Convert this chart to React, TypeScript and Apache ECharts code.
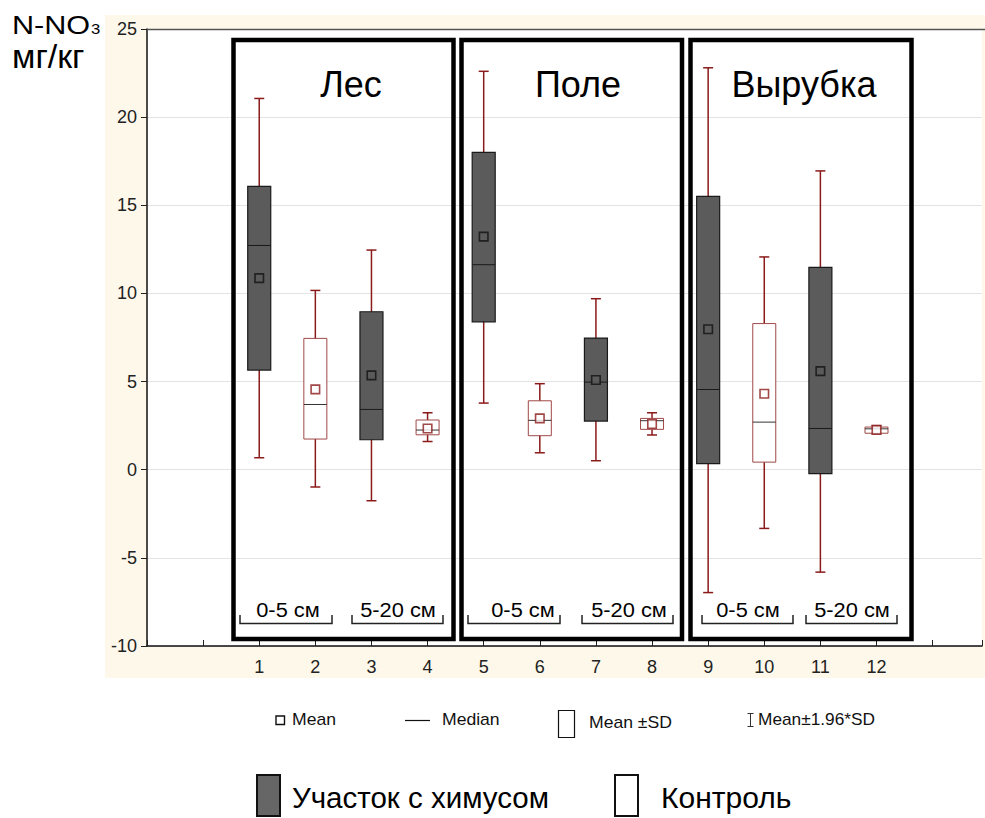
import React, { useEffect, useRef } from "react";
import * as echarts from "echarts";

// ---- data ----
const xPositions = [1, 2, 3, 4, 5, 6, 7, 8, 9, 10, 11, 12];
const xTickLabels = ["1", "2", "3", "4", "5", "6", "7", "8", "9", "10", "11", "12"];
const yTickValues = [-10, -5, 0, 5, 10, 15, 20, 25];
// "chem" = Участок с химусом (dark), "ctrl" = Контроль (white)
const plotType = ["chem", "ctrl", "chem", "ctrl", "chem", "ctrl", "chem", "ctrl", "chem", "ctrl", "chem", "ctrl"];
const means = [10.87, 4.56, 5.35, 2.34, 13.22, 2.91, 5.09, 2.59, 7.97, 4.31, 5.59, 2.26];
const medians = [12.72, 3.7, 3.42, 2.25, 11.63, 2.8, 4.97, 2.78, 4.55, 2.7, 2.34, 2.32];
const sdLow = [5.65, 1.74, 1.7, 1.98, 8.39, 1.93, 2.76, 2.29, 0.35, 0.43, -0.22, 2.07];
const sdHigh = [16.07, 7.45, 8.96, 2.82, 18.0, 3.91, 7.47, 2.91, 15.5, 8.29, 11.48, 2.42];
const ciLow = [0.68, -0.98, -1.76, 1.6, 3.78, 0.96, 0.51, 1.97, -6.97, -3.33, -5.81, 2.05];
const ciHigh = [21.06, 10.17, 12.46, 3.23, 22.6, 4.88, 9.7, 3.23, 22.8, 12.07, 16.95, 2.5];

const groupTitles = ["Лес", "Поле", "Вырубка"];
const depthLabels = ["0-5 см", "5-20 см"];
const legendStatLabels = ["Mean", "Median", "Mean ±SD", "Mean±1.96*SD"];
const legendTypeLabels = ["Участок с химусом", "Контроль"];
const yAxisTitle = ["N-NO", "3", "мг/кг"];

const FONT = "'Liberation Sans', Arial, sans-serif";
const DARK = "#5b5b5b";
const RED = "#8b1a1a";

export default function App() {
  const ref = useRef<HTMLDivElement>(null);

  useEffect(() => {
    if (!ref.current) return;
    const chart = echarts.init(ref.current, undefined, { renderer: "svg" });

    const boxData = xPositions.map((x, i) => [x, ciLow[i], sdLow[i], medians[i], sdHigh[i], ciHigh[i]]);
    const meanData = xPositions.map((x, i) => ({
      value: [x, means[i]],
      itemStyle: {
        color: plotType[i] === "chem" ? DARK : "#ffffff",
        borderColor: plotType[i] === "chem" ? "#111111" : RED,
        borderWidth: 1.6,
      },
    }));

    const frames = [
      { x1: 233.5, x2: 453.5 },
      { x1: 461.5, x2: 682 },
      { x1: 690.5, x2: 911.5 },
    ];
    const titleX = [351, 578, 804];
    const brackets = [
      { a: 240, b: 332, t: 288, l: 0 },
      { a: 352, b: 443, t: 398, l: 1 },
      { a: 468, b: 560, t: 523, l: 0 },
      { a: 582, b: 673, t: 629, l: 1 },
      { a: 702, b: 793, t: 748, l: 0 },
      { a: 806, b: 897, t: 852, l: 1 },
    ];

    const graphics: any[] = [
      {
        type: "rect",
        z: -1,
        silent: true,
        shape: { x: 105, y: 15, width: 880, height: 663 },
        style: { fill: "#fdf8ea" },
      },
      {
        type: "line",
        z: 50,
        shape: { x1: 147, y1: 29.5, x2: 985, y2: 29.5 },
        style: { stroke: "#555", lineWidth: 1.5 },
      },
      // y-axis title
      {
        type: "text",
        x: 12,
        y: 25,
        scaleX: 1.2,
        style: { text: yAxisTitle[0], fontSize: 25.5, fontFamily: FONT, fill: "#000", align: "left", verticalAlign: "middle" },
      },
      {
        type: "text",
        x: 91,
        y: 29,
        scaleX: 1.15,
        style: { text: yAxisTitle[1], fontSize: 14.5, fontFamily: FONT, fill: "#000", align: "left", verticalAlign: "middle" },
      },
      {
        type: "text",
        x: 12,
        y: 56,
        style: { text: yAxisTitle[2], fontSize: 34, fontFamily: FONT, fill: "#000", align: "left", verticalAlign: "middle" },
      },
    ];

    frames.forEach((f, k) => {
      graphics.push({
        type: "rect",
        z: 100,
        shape: { x: f.x1, y: 40, width: f.x2 - f.x1, height: 599 },
        style: { fill: "none", stroke: "#000", lineWidth: 4.5 },
      });
      graphics.push({
        type: "text",
        z: 100,
        x: titleX[k],
        y: 84,
        style: { text: groupTitles[k], fontSize: 36, fontFamily: FONT, fill: "#000", align: "center", verticalAlign: "middle" },
      });
    });

    brackets.forEach((b) => {
      graphics.push({
        type: "polyline",
        z: 100,
        shape: { points: [[b.a, 615], [b.a, 623.5], [b.b, 623.5], [b.b, 615]] },
        style: { fill: "none", stroke: "#222", lineWidth: 1.5 },
      });
      graphics.push({
        type: "text",
        z: 100,
        x: b.t,
        y: 610,
        scaleX: 1.12,
        style: { text: depthLabels[b.l], fontSize: 19.5, fontFamily: FONT, fill: "#000", align: "center", verticalAlign: "middle" },
      });
    });

    // stats legend
    graphics.push(
      { type: "rect", shape: { x: 276, y: 716, width: 8.5, height: 8.5 }, style: { fill: "#fff", stroke: "#111", lineWidth: 1.4 } },
      { type: "text", x: 292, y: 720, scaleX: 1.1, style: { text: legendStatLabels[0], fontSize: 16, fontFamily: FONT, fill: "#111", align: "left", verticalAlign: "middle" } },
      { type: "line", shape: { x1: 405, y1: 720.5, x2: 430, y2: 720.5 }, style: { stroke: "#111", lineWidth: 1.2 } },
      { type: "text", x: 442, y: 720, scaleX: 1.1, style: { text: legendStatLabels[1], fontSize: 16, fontFamily: FONT, fill: "#111", align: "left", verticalAlign: "middle" } },
      { type: "rect", shape: { x: 558.5, y: 710.5, width: 16, height: 27 }, style: { fill: "#fff", stroke: "#111", lineWidth: 1.2 } },
      { type: "text", x: 589, y: 723, scaleX: 1.1, style: { text: legendStatLabels[2], fontSize: 16, fontFamily: FONT, fill: "#111", align: "left", verticalAlign: "middle" } },
      { type: "line", shape: { x1: 750.5, y1: 713, x2: 750.5, y2: 727 }, style: { stroke: "#333", lineWidth: 1 } },
      { type: "line", shape: { x1: 747.5, y1: 713.5, x2: 753.5, y2: 713.5 }, style: { stroke: "#333", lineWidth: 1 } },
      { type: "line", shape: { x1: 747.5, y1: 726.5, x2: 753.5, y2: 726.5 }, style: { stroke: "#333", lineWidth: 1 } },
      { type: "text", x: 758, y: 720, scaleX: 1.08, style: { text: legendStatLabels[3], fontSize: 16, fontFamily: FONT, fill: "#111", align: "left", verticalAlign: "middle" } }
    );

    // type legend
    graphics.push(
      { type: "rect", shape: { x: 257, y: 775, width: 23, height: 41 }, style: { fill: "#666", stroke: "#111", lineWidth: 2 } },
      { type: "text", x: 292, y: 797, style: { text: legendTypeLabels[0], fontSize: 29.5, fontFamily: FONT, fill: "#000", align: "left", verticalAlign: "middle" } },
      { type: "rect", shape: { x: 615, y: 775, width: 23, height: 41 }, style: { fill: "#fff", stroke: "#111", lineWidth: 2 } },
      { type: "text", x: 661, y: 797, style: { text: legendTypeLabels[1], fontSize: 30, fontFamily: FONT, fill: "#000", align: "left", verticalAlign: "middle" } }
    );

    chart.setOption({
      animation: false,
      grid: {
        left: 147,
        top: 29,
        right: 0,
        bottom: 172,
        show: true,
        backgroundColor: "#ffffff",
        borderWidth: 0,
      },
      xAxis: {
        type: "value",
        min: -1,
        max: 13.88,
        interval: 1,
        axisLine: { show: true, onZero: false, lineStyle: { color: "#111", width: 1.5 } },
        axisTick: { show: true, inside: true, length: 6, lineStyle: { color: "#222" } },
        axisLabel: {
          margin: 12,
          fontSize: 18,
          fontFamily: FONT,
          color: "#222",
          formatter: (v: number) => {
            const idx = xPositions.indexOf(v);
            return idx >= 0 ? xTickLabels[idx] : "";
          },
        },
        splitLine: { show: false },
      },
      yAxis: {
        type: "value",
        min: yTickValues[0],
        max: yTickValues[yTickValues.length - 1],
        interval: 5,
        axisLine: { show: true, onZero: false, lineStyle: { color: "#111", width: 1.5 } },
        axisTick: { show: true, inside: false, length: 6, lineStyle: { color: "#222" } },
        axisLabel: {
          margin: 10,
          fontSize: 18,
          fontFamily: FONT,
          color: "#222",
          formatter: (v: number) => (yTickValues.indexOf(v) >= 0 ? String(v) : ""),
        },
        splitLine: { show: true, lineStyle: { color: "#e3e3e3", width: 1.2 } },
      },
      graphic: graphics,
      series: [
        {
          type: "custom",
          data: boxData,
          encode: { x: 0, y: [1, 2, 3, 4, 5] },
          z: 3,
          renderItem: (params: any, api: any) => {
            const i = params.dataIndex;
            const x = api.value(0);
            const pWlo = api.coord([x, api.value(1)]);
            const pBlo = api.coord([x, api.value(2)]);
            const pMed = api.coord([x, api.value(3)]);
            const pBhi = api.coord([x, api.value(4)]);
            const pWhi = api.coord([x, api.value(5)]);
            const bw = api.size([0.41, 0])[0];
            const cw = 10;
            const cx = pWlo[0];
            const dark = plotType[i] === "chem";
            return {
              type: "group",
              children: [
                {
                  type: "line",
                  shape: { x1: cx, y1: pWhi[1], x2: cx, y2: pWlo[1] },
                  style: { stroke: RED, lineWidth: 1.5 },
                },
                {
                  type: "line",
                  shape: { x1: cx - cw / 2, y1: pWhi[1], x2: cx + cw / 2, y2: pWhi[1] },
                  style: { stroke: RED, lineWidth: 1.5 },
                },
                {
                  type: "line",
                  shape: { x1: cx - cw / 2, y1: pWlo[1], x2: cx + cw / 2, y2: pWlo[1] },
                  style: { stroke: RED, lineWidth: 1.5 },
                },
                {
                  type: "rect",
                  shape: { x: cx - bw / 2, y: pBhi[1], width: bw, height: pBlo[1] - pBhi[1] },
                  style: {
                    fill: dark ? DARK : "#ffffff",
                    stroke: dark ? "#1a1a1a" : "#a04848",
                    lineWidth: dark ? 1.2 : 1,
                  },
                },
                {
                  type: "line",
                  shape: { x1: cx - bw / 2, y1: pMed[1], x2: cx + bw / 2, y2: pMed[1] },
                  style: { stroke: dark ? "#1a1a1a" : "#333", lineWidth: 1 },
                },
              ],
            };
          },
        },
        {
          type: "scatter",
          data: meanData,
          symbol: "rect",
          symbolSize: 8.5,
          z: 4,
        },
      ],
    });

    return () => chart.dispose();
  }, []);

  return <div ref={ref} style={{ position: "absolute", left: 0, top: 0, width: 985, height: 818 }} />;
}
